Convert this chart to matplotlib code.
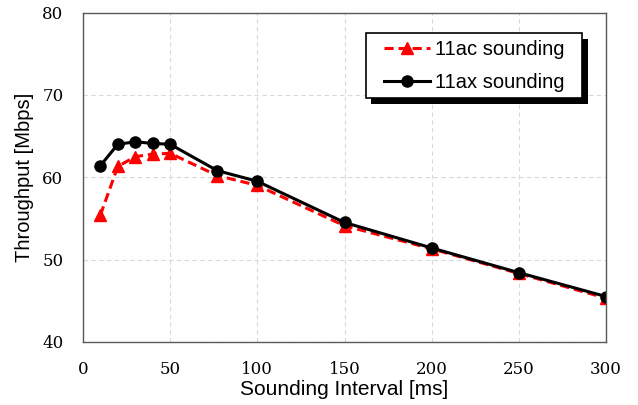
import matplotlib
matplotlib.use("Agg")
import matplotlib.pyplot as plt
import matplotlib.patheffects as pe
from matplotlib.path import Path

# sounding interval [ms]
intervals = [10, 20, 30, 40, 50, 77, 100, 150, 200, 250, 300]
# throughput [Mbps]
ac_thr = [55.4, 61.3, 62.5, 62.8, 62.9, 60.2, 59.0, 54.1, 51.3, 48.3, 45.3]
ax_thr = [61.4, 64.0, 64.3, 64.1, 64.0, 60.8, 59.5, 54.5, 51.4, 48.4, 45.5]


def wide_box(x0, y0, width, height, mutation_size):
    # legend frame with extra room left and right only
    px = 11
    x1, y1 = x0 - px, y0
    x2, y2 = x0 + width + px, y0 + height
    return Path([(x1, y1), (x2, y1), (x2, y2), (x1, y2), (x1, y1)], closed=True)


fig = plt.figure(figsize=(6.38, 4.05), dpi=100)
ax = fig.add_axes([0.130, 0.156, 0.820, 0.813])

ax.plot(intervals, ac_thr, color="#ff0000", linestyle=(0, (3, 1.6)), linewidth=2.2,
        marker="^", markersize=8, label="11ac sounding")
ax.plot(intervals, ax_thr, color="black", linewidth=2.2,
        marker="o", markersize=8, label="11ax sounding")

ax.set_xlim(0, 300)
ax.set_ylim(40, 80)
ax.set_xticks(range(0, 301, 50))
ax.set_yticks(range(40, 81, 10))
ax.grid(True, color="#d9d9d9", linestyle=(0, (4, 3)), linewidth=0.8)
ax.set_axisbelow(True)
ax.tick_params(axis="x", length=0, pad=14)
ax.tick_params(axis="y", length=0, pad=14)
for lab in ax.get_xticklabels() + ax.get_yticklabels():
    lab.set_fontfamily("DejaVu Serif")
    lab.set_fontsize(12)
for sp in ax.spines.values():
    sp.set_color("#595959")
    sp.set_linewidth(1.0)

ax.set_xlabel("Sounding Interval [ms]", fontfamily="Liberation Sans", fontsize=15, labelpad=1)
ax.set_ylabel("Throughput [Mbps]", fontfamily="Liberation Sans", fontsize=14.5, labelpad=6)

leg = ax.legend(loc="upper right", bbox_to_anchor=(0.933, 0.938), borderaxespad=0,
                fancybox=False, framealpha=1, edgecolor="black", borderpad=0.33,
                handlelength=2.3, handletextpad=0.25, labelspacing=0.7,
                prop={"family": "Liberation Sans", "size": 14.5})
frame = leg.get_frame()
frame.set_boxstyle(wide_box)
frame.set_linewidth(1.2)
frame.set_path_effects([pe.withSimplePatchShadow(offset=(4, -4), shadow_rgbFace="black", alpha=1)])

fig.savefig("out.png", dpi=100)
